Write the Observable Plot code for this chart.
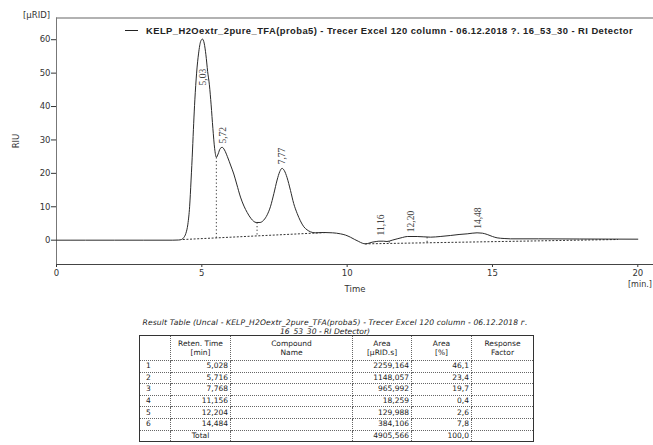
<!DOCTYPE html>
<html><head><meta charset="utf-8">
<script src="https://cdn.jsdelivr.net/npm/d3@7"></script>
<script src="https://cdn.jsdelivr.net/npm/@observablehq/plot@0.6"></script>
<style>
body{margin:0;background:#fff;}
#wrap{position:relative;width:653px;height:445px;overflow:hidden;font-family:"DejaVu Sans",sans-serif;background:#fff;}
#chart{position:absolute;left:0;top:0;}
.abs{position:absolute;white-space:nowrap;color:#333;}
#legend{left:125px;top:24px;height:12px;display:flex;align-items:center;font:bold 9.4px "Liberation Sans",Arial,sans-serif;color:#222;}
#legend .swatch{display:inline-block;width:13px;height:0;border-top:1px solid #222;margin-right:8px;}
#unitY{left:23px;top:10px;font-size:8.5px;}
#unitX{left:628px;top:280px;font-size:8px;}
#labX{left:355px;top:284px;font-size:8.5px;transform:translateX(-50%);}
#labY{left:16px;top:141px;font-size:8.5px;transform:translate(-50%,-50%) rotate(-90deg);}
.ttl{font-style:italic;font-size:7.6px;color:#222;transform:translateX(-50%);}
#ttl1{left:335px;top:318px;}
#ttl2{left:325px;top:326.5px;}
#tbl{position:absolute;left:139px;top:335px;border-collapse:collapse;table-layout:fixed;width:394px;font-size:7.5px;color:#222;border:1px solid #333;}
#tbl td,#tbl th{border:1px dotted #666;padding:0 2px;height:10.6px;line-height:10px;overflow:hidden;white-space:nowrap;}
#tbl th{font-weight:normal;height:21px;vertical-align:top;text-align:center;line-height:9px;padding-top:3px;border-top:1px solid #333;}
#tbl td.num{text-align:right;}
#tbl td.idx{text-align:left;padding-left:6px;}
#tbl td.tot{text-align:center;}
</style></head>
<body>
<div id="wrap">
  <div id="chart"></div>
  <div class="abs" id="legend"><span class="swatch"></span><span id="legendText"></span></div>
  <div class="abs" id="unitY">[µRID]</div>
  <div class="abs" id="unitX">[min.]</div>
  <div class="abs" id="labX">Time</div>
  <div class="abs" id="labY">RIU</div>
  <div class="abs ttl" id="ttl1"></div>
  <div class="abs ttl" id="ttl2"></div>
  <table id="tbl"></table>
</div>
<script>
// ---- chromatogram trace (time [min], signal [µRID])
const traceTime = [0,1,2,3,4.0,4.2,4.3,4.38,4.45,4.52,4.58,4.63,4.68,4.72,4.76,4.82,4.89,4.96,5.02,5.08,5.14,5.20,5.26,5.32,5.38,5.44,5.50,5.56,5.63,5.70,5.78,5.88,6.0,6.1,6.2,6.33,6.45,6.56,6.7,6.87,7.0,7.13,7.25,7.36,7.48,7.59,7.68,7.76,7.84,7.93,8.05,8.16,8.28,8.39,8.51,8.62,8.74,8.9,9.19,9.5,9.77,9.95,10.11,10.26,10.40,10.52,10.63,10.75,10.86,11.0,11.09,11.25,11.37,11.55,11.72,11.9,12.07,12.41,12.87,13.2,13.55,13.85,14.13,14.47,14.65,14.82,15.0,15.16,15.4,15.62,16.59,18,20];
const traceSignal = [0,0,0,0,0,0.05,0.2,0.8,2.0,4.8,10.0,18.0,27.0,35.0,42.0,50.0,56.0,59.5,60.2,59.0,55.5,50.5,46.5,40.5,33.5,27.5,24.8,25.8,27.4,27.8,27.0,25.0,22.2,19.8,16.8,12.9,10.2,8.3,6.4,5.3,5.3,6.0,7.6,10.0,14.0,18.0,20.5,21.5,20.8,18.8,14.9,11.0,8.0,5.8,4.0,3.1,2.5,2.2,2.3,2.2,1.9,1.5,0.9,0.2,-0.4,-0.9,-1.1,-0.9,-0.6,-0.4,-0.3,-0.3,-0.4,0.0,0.4,0.8,1.1,1.1,0.9,1.1,1.4,1.7,1.9,2.2,2.1,1.7,1.1,0.7,0.5,0.4,0.4,0.35,0.3];

// ---- integration baselines (dotted)
const baseSegment = [1,1,2,2];
const baseTime = [4.36,9.3,10.63,19.3];
const baseSignal = [0.2,2.3,-1.1,0.2];

// ---- peak drop lines (dotted)
const dropTime = [5.50,6.90,11.45,12.75];
const dropTop = [24.8,5.3,-0.35,0.9];
const dropBottom = [0.7,1.25,-0.95,-0.77];

// ---- peak labels
const peakLabelY = [46.3,28.9,22.7,1.4,2.4,3.4];

// ---- result table
const peakNo = [1,2,3,4,5,6];
const retTime = [5.028,5.716,7.768,11.156,12.204,14.484];
const area = [2259.164,1148.057,965.992,18.259,129.988,384.106];
const areaPct = [46.1,23.4,19.7,0.4,2.6,7.8];

// ---- axes
const xTicks = [0,5,10,15,20];
const yTicks = [0,10,20,30,40,50,60];
const xDomain = [0,20.54];
const yDomain = [-7.28,66.5];

const sampleName = "KELP_H2Oextr_2pure_TFA(proba5) - Trecer Excel 120 column - 06.12.2018 ?. 16_53_30 - RI Detector";
const tableTitle1 = "Result Table (Uncal -  KELP_H2Oextr_2pure_TFA(proba5) - Trecer Excel 120 column - 06.12.2018 г.";
const tableTitle2 = "16_53_30 - RI Detector)";

const comma = (v, d) => v.toFixed(d).replace(".", ",");

const trace = traceTime.map((t,i)=>({t, v: traceSignal[i]}));
const base = baseTime.map((t,i)=>({t, v: baseSignal[i], s: baseSegment[i]}));
const drops = dropTime.map((t,i)=>({t, y1: dropTop[i], y2: dropBottom[i]}));
const labels = retTime.map((t,i)=>({t, y: peakLabelY[i], text: comma(t,2)}));

const plot = Plot.plot({
  width: 653, height: 300,
  marginLeft: 56, marginRight: 0, marginTop: 17.5, marginBottom: 36,
  style: {fontFamily: "'DejaVu Sans', sans-serif", fontSize: "8.5px", color: "#333", background: "transparent"},
  x: {domain: xDomain, ticks: xTicks, tickSize: 3, tickPadding: 2, tickFormat: d => String(d), label: null},
  y: {domain: yDomain, ticks: yTicks, tickSize: 5, tickPadding: 1, tickFormat: d => String(d), label: null},
  marks: [
    Plot.ruleY([yDomain[1]], {stroke: "#999", strokeWidth: 1.5}),
    Plot.ruleY([yDomain[0]], {stroke: "#444", strokeWidth: 1}),
    Plot.ruleX([xDomain[0]], {stroke: "#777", strokeWidth: 1}),
    Plot.line(base, {x: "t", y: "v", z: "s", stroke: "#333", strokeWidth: 1, strokeDasharray: "1.2,2.4"}),
    Plot.link(drops, {x1: "t", x2: "t", y1: "y1", y2: "y2", stroke: "#333", strokeWidth: 1, strokeDasharray: "1.2,2.4"}),
    Plot.line(trace, {x: "t", y: "v", stroke: "#2a2a2a", strokeWidth: 1, curve: "monotone-x"}),
    Plot.text(labels, {x: "t", y: "y", text: "text", rotate: -90, textAnchor: "start", fontFamily: "'Liberation Serif', serif", fontSize: 9.5, fill: "#444"})
  ]
});
document.getElementById("chart").appendChild(plot);

function fitWidth(el, target) {
  const n = el.textContent.length;
  const w = el.getBoundingClientRect().width;
  if (n > 1) el.style.letterSpacing = ((target - w) / n) + "px";
}
const lt = document.getElementById("legendText");
lt.textContent = sampleName;
fitWidth(lt, 487);
const t1 = document.getElementById("ttl1");
t1.textContent = tableTitle1;
fitWidth(t1, 385);
document.getElementById("ttl2").textContent = tableTitle2;

// table
const tbl = document.getElementById("tbl");
const colW = [31,60,122,59,60,62];
const cg = document.createElement("colgroup");
colW.forEach(w => { const c = document.createElement("col"); c.style.width = w + "px"; cg.appendChild(c); });
tbl.appendChild(cg);
const headers = ["", "Reten. Time<br>[min]", "Compound<br>Name", "Area<br>[µRID.s]", "Area<br>[%]", "Response<br>Factor"];
const hr = document.createElement("tr");
headers.forEach(h => { const th = document.createElement("th"); th.innerHTML = h; hr.appendChild(th); });
tbl.appendChild(hr);
function addRow(cells, classes) {
  const tr = document.createElement("tr");
  cells.forEach((c, i) => { const td = document.createElement("td"); td.textContent = c; if (classes[i]) td.className = classes[i]; tr.appendChild(td); });
  tbl.appendChild(tr);
}
peakNo.forEach((n, i) => addRow([String(n), comma(retTime[i],3), "", comma(area[i],3), comma(areaPct[i],1), ""], ["idx","num","","num","num",""]));
const totalArea = d3.sum(area);
const totalPct = d3.sum(areaPct);
addRow(["", "Total", "", comma(totalArea,3), comma(totalPct,1), ""], ["", "tot", "", "num", "num", ""]);
</script>
</body></html>
